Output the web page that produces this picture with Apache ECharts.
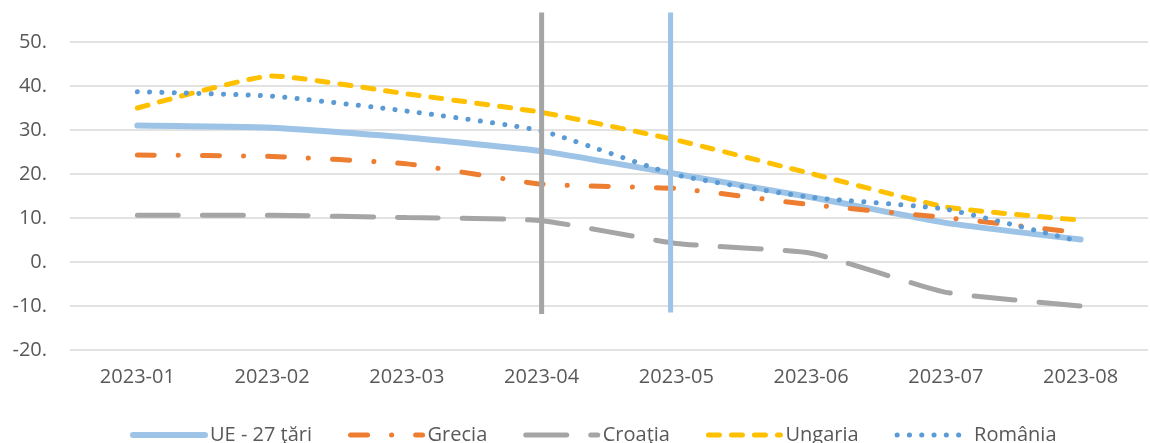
<!DOCTYPE html>
<html>
<head>
<meta charset="utf-8">
<script src="https://cdn.jsdelivr.net/npm/echarts@6/dist/echarts.min.js"></script>
<style>
	html, body { margin: 0; padding: 0; background: #fff; }
	#chart { width: 1150px; height: 443px; }
</style>
</head>
<body>
<div id="chart"></div>
<script>
	// date
	var categories = ['2023-01', '2023-02', '2023-03', '2023-04', '2023-05', '2023-06', '2023-07', '2023-08'];
	var ue = [31.0, 30.5, 28.3, 25.2, 20.0, 14.7, 8.9, 5.1];
	var grecia = [24.3, 24.0, 22.3, 17.7, 16.7, 13.0, 10.1, 6.6];
	var croatia = [10.6, 10.6, 10.1, 9.4, 4.2, 2.0, -6.9, -10.0];
	var ungaria = [35.0, 42.3, 38.2, 34.0, 27.7, 20.1, 12.5, 9.5];
	var romania = [38.7, 37.7, 34.3, 29.8, 19.8, 14.7, 12.0, 4.6];
	var seriesNames = ['UE - 27 ţări', 'Grecia', 'Croaţia', 'Ungaria', 'România'];
	// linii verticale: pozitie pe axa x (index categorie, poate fi fractionar), capat sus, capat jos
	var refLineX = [3, 3.957];
	var refLineTop = [56.7, 56.7];
	var refLineBottom = [-11.8, -11.5];
	// ultima eticheta afisata pe axa y (axa merge putin mai sus, sub marginea de sus)
	var yLabelMax = 50;

	var font = '"Open Sans", "Liberation Sans", sans-serif';
	var colors = ['#9DC3E6', '#ED7D31', '#A5A5A5', '#FFC000', '#5B9BD5'];
	var refColors = ['#A5A5A5', '#9DC3E6'];
	var widths = [6, 5, 5, 5, 5];
	var dashes = ['solid', [17, 24, 0.1, 24], [41, 24], [11, 12], [0.1, 12.2]];
	var myChart = echarts.init(document.getElementById('chart'));

	function lineSeries(i, data){
		return {
			name: seriesNames[i],
			type: 'line',
			data: data,
			symbol: 'none',
			smooth: 0.15,
			lineStyle: { color: colors[i], width: widths[i], type: dashes[i], cap: 'round' },
			itemStyle: { color: colors[i] }
		};
	}

	// legenda: doar linia, fara simbol
	var legendData = seriesNames.map(function (n, i){
		return {
			name: n,
			itemStyle: { opacity: 0 },
			lineStyle: { color: colors[i], width: widths[i], type: dashes[i], cap: 'round' }
		};
	});

	var seriesList = [
		lineSeries(0, ue),
		lineSeries(1, grecia),
		lineSeries(2, croatia),
		lineSeries(3, ungaria),
		lineSeries(4, romania)
	];
	// liniile verticale, pe axa x ascunsa (valori continue)
	refLineX.forEach(function (x, i){
		seriesList.push({
			name: 'ref' + i,
			type: 'line',
			xAxisIndex: 1,
			data: [[x, refLineTop[i]], [x, refLineBottom[i]]],
			symbol: 'none',
			silent: true,
			z: 5,
			lineStyle: { color: refColors[i], width: 5, type: 'solid' }
		});
	});

	var option = {
		animation: false,
		grid: { left: 70, right: 2, top: -2, bottom: 93, outerBoundsMode: 'none' },
		legend: {
			data: legendData,
			left: 125,
			top: 420,
			itemWidth: 72,
			itemHeight: 14,
			itemGap: 36,
			textStyle: { color: '#595959', fontSize: 20, fontFamily: font }
		},
		xAxis: [{
			type: 'category',
			data: categories,
			boundaryGap: true,
			axisLine: { show: false },
			axisTick: { show: false },
			axisLabel: { color: '#595959', fontSize: 20, fontFamily: font, margin: 17 }
		}, {
			type: 'value',
			min: -0.5,
			max: categories.length - 0.5,
			show: false
		}],
		yAxis: {
			type: 'value',
			min: -20,
			max: 60,
			interval: 10,
			axisLine: { show: false },
			axisTick: { show: false },
			axisLabel: {
				color: '#595959', fontSize: 20, fontFamily: font, margin: 23,
				formatter: function (v){ return v > yLabelMax ? '' : v + '.'; }
			},
			splitLine: { lineStyle: { color: '#D9D9D9', width: 1.5 } }
		},
		series: seriesList
	};
	myChart.setOption(option);
</script>
</body>
</html>
